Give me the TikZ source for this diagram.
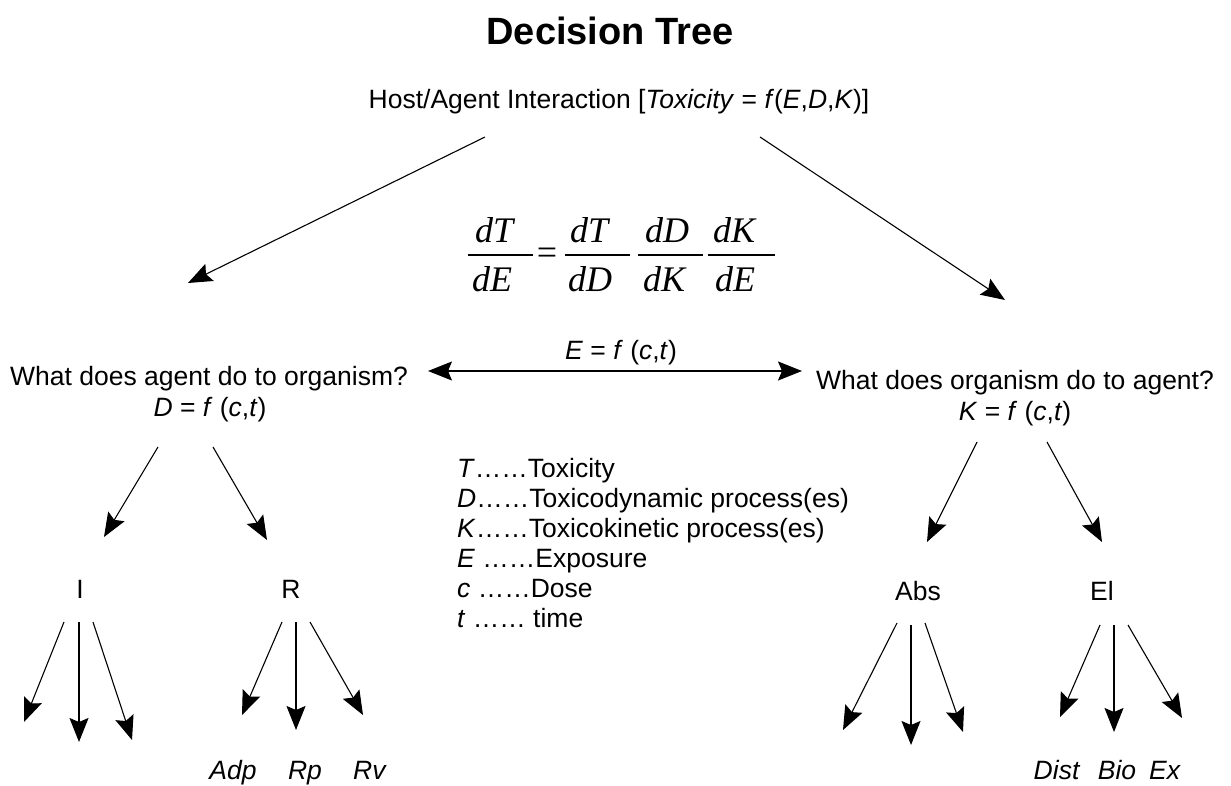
\documentclass[tikz,border=0pt]{standalone}
\usepackage{fontspec}
\setmainfont{Liberation Sans}
\newfontfamily\tms{Liberation Serif}
\usetikzlibrary{arrows.meta}
\begin{document}
\begin{tikzpicture}[x=1pt,y=-1pt,
  lbl/.style={font=\fontsize{26.5}{30}\selectfont, inner sep=0pt, anchor=base},
  leg/.style={font=\fontsize{26.5}{30}\selectfont, inner sep=0pt, anchor=base west},
  eqt/.style={font=\tms\itshape\fontsize{36}{40}\selectfont, inner sep=0pt, anchor=base west},
  con/.style={line width=1.1pt, -{Stealth[length=24pt,width=19pt,inset=4pt]}},
  dcon/.style={line width=1.1pt, {Stealth[length=24pt,width=19pt,inset=4pt]}-{Stealth[length=24pt,width=19pt,inset=4pt]}},
  fbar/.style={line width=1.4pt}]
\useasboundingbox (0,0) rectangle (1231,786);

% title and root
\node[lbl, font=\bfseries\fontsize{38}{42}\selectfont] (title) at (610,45) {Decision Tree};
\node[lbl] (host) at (619,109) {Host/Agent Interaction [\textit{Toxicity} = \textit{f}(\textit{E},\textit{D},\textit{K})]};
\coordinate (hostL) at (485,137);
\coordinate (hostR) at (760,137);
\coordinate (tipD) at (188,283);
\coordinate (tipK) at (1005,300);
\draw[con] (hostL) -- (tipD);
\draw[con] (hostR) -- (tipK);

% equation
\node[eqt] (n1) at (475,243) {dT};
\node[eqt] (n2) at (570,243) {dT};
\node[eqt] (n3) at (645,243) {dD};
\node[eqt] (n4) at (713,243) {dK};
\node[eqt] (d1) at (472,291) {dE};
\node[eqt] (d2) at (568,291) {dD};
\node[eqt] (d3) at (643,291) {dK};
\node[eqt] (d4) at (715,291) {dE};
\draw[fbar] (468,255) -- (533,255);
\draw[fbar] (565,255) -- (630,255);
\draw[fbar] (638,255) -- (703,255);
\draw[fbar] (708,255) -- (775,255);
\node[font=\tms\fontsize{36}{40}\selectfont, inner sep=0pt] (eqs) at (547,256) {=};

% exposure
\node[lbl] (Ef) at (621,359) {\textit{E} = \textit{f} (\textit{c},\textit{t})};
\coordinate (dl) at (428,371);
\coordinate (dr) at (802,371);
\draw[dcon] (dl) -- (dr);

% left branch
\node[lbl] (qD) at (209,385) {What does agent do to organism?};
\node[lbl] (fD) at (210,416) {\textit{D} = \textit{f} (\textit{c},\textit{t})};
% right branch
\node[lbl] (qK) at (1015,389) {What does organism do to agent?};
\node[lbl] (fK) at (1015,420) {\textit{K} = \textit{f} (\textit{c},\textit{t})};

\coordinate (sD1) at (158,447); \coordinate (eD1) at (104,537);
\coordinate (sD2) at (213,447); \coordinate (eD2) at (267,540);
\coordinate (sK1) at (977,442); \coordinate (eK1) at (927,542);
\coordinate (sK2) at (1047,442); \coordinate (eK2) at (1102,542);
\draw[con] (sD1) -- (eD1);
\draw[con] (sD2) -- (eD2);
\draw[con] (sK1) -- (eK1);
\draw[con] (sK2) -- (eK2);

% second level labels
\node[lbl] (I) at (80,598) {I};
\node[lbl] (R) at (291,598) {R};
\node[lbl] (Abs) at (918,600) {Abs};
\node[lbl] (El) at (1102,600) {El};

% I arrows
\coordinate (sI1) at (64,622); \coordinate (eI1) at (24,722);
\coordinate (sI2) at (79,622); \coordinate (eI2) at (79,742);
\coordinate (sI3) at (93,622); \coordinate (eI3) at (132,740);
\draw[con] (sI1) -- (eI1);
\draw[con] (sI2) -- (eI2);
\draw[con] (sI3) -- (eI3);
% R arrows
\coordinate (sR1) at (282,622); \coordinate (eR1) at (242,715);
\coordinate (sR2) at (296,622); \coordinate (eR2) at (296,730);
\coordinate (sR3) at (310,622); \coordinate (eR3) at (363,715);
\draw[con] (sR1) -- (eR1);
\draw[con] (sR2) -- (eR2);
\draw[con] (sR3) -- (eR3);
% Abs arrows
\coordinate (sA1) at (897,623); \coordinate (eA1) at (843,730);
\coordinate (sA2) at (911,625); \coordinate (eA2) at (911,745);
\coordinate (sA3) at (925,623); \coordinate (eA3) at (963,732);
\draw[con] (sA1) -- (eA1);
\draw[con] (sA2) -- (eA2);
\draw[con] (sA3) -- (eA3);
% El arrows
\coordinate (sE1) at (1100,625); \coordinate (eE1) at (1060,717);
\coordinate (sE2) at (1114,625); \coordinate (eE2) at (1114,732);
\coordinate (sE3) at (1128,625); \coordinate (eE3) at (1182,718);
\draw[con] (sE1) -- (eE1);
\draw[con] (sE2) -- (eE2);
\draw[con] (sE3) -- (eE3);

% leaf labels
\node[lbl] (Adp) at (233,779) {\textit{Adp}};
\node[lbl] (Rp) at (305,779) {\textit{Rp}};
\node[lbl] (Rv) at (370,779) {\textit{Rv}};
\node[lbl] (Dist) at (1057,779) {\textit{Dist}};
\node[lbl] (Bio) at (1117,779) {\textit{Bio}};
\node[lbl] (Ex) at (1165,779) {\textit{Ex}};

% legend
\node[leg] (lT) at (457,477) {\textit{T}……Toxicity};
\node[leg] (lD) at (457,507) {\textit{D}……Toxicodynamic process(es)};
\node[leg] (lK) at (457,537) {\textit{K}……Toxicokinetic process(es)};
\node[leg] (lE) at (457,567) {\textit{E} ……Exposure};
\node[leg] (lc) at (457,597) {\textit{c} ……Dose};
\node[leg] (lt) at (457,627) {\textit{t} …… time};
\end{tikzpicture}
\end{document}
